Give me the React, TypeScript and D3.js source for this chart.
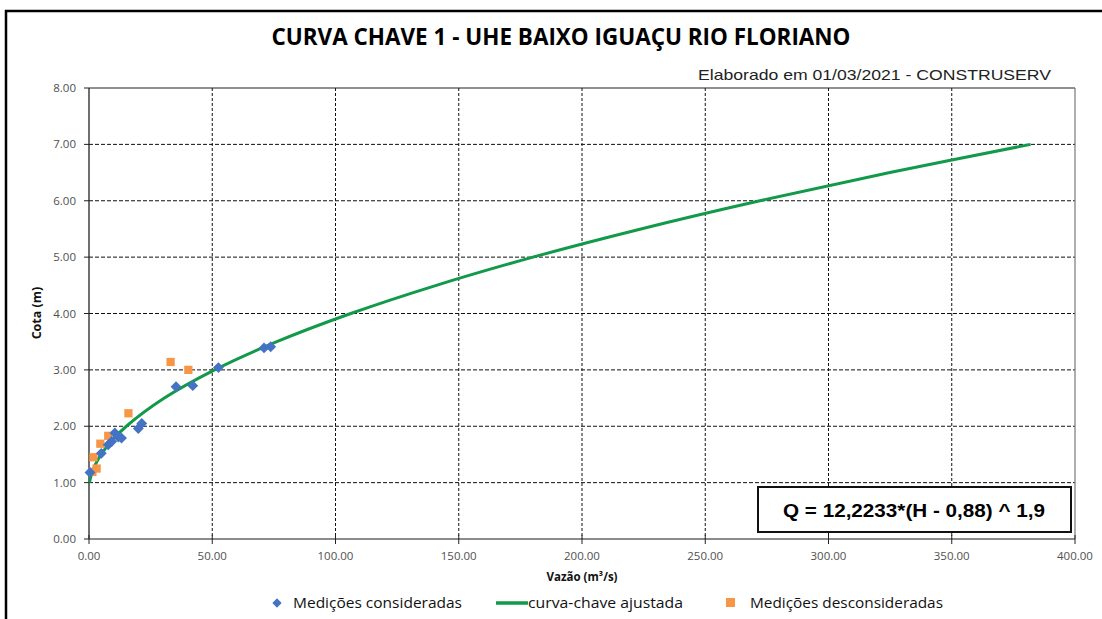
import React from "react";
import * as d3 from "d3";

const W = 1102;
const H = 619;

const xTicks = [0, 50, 100, 150, 200, 250, 300, 350, 400];
const yTicks = [0, 1, 2, 3, 4, 5, 6, 7, 8];

// Medições consideradas (Q m³/s, H m)
const consQ = [0.4, 5.0, 7.8, 9.2, 10.5, 11.9, 13.2, 20.0, 21.4, 35.3, 42.1, 52.5, 71.0, 73.7];
const consH = [1.18, 1.52, 1.67, 1.73, 1.88, 1.81, 1.79, 1.96, 2.05, 2.70, 2.72, 3.04, 3.39, 3.41];

// Medições desconsideradas
const descQ = [1.4, 1.8, 3.1, 4.6, 7.8, 16.0, 33.1, 40.3];
const descH = [1.19, 1.45, 1.25, 1.69, 1.83, 2.23, 3.14, 3.00];

// curva-chave ajustada
const curveH = [1.0, 1.05, 1.1, 1.2, 1.3, 1.5, 1.75, 2.0, 2.5, 3.0, 3.5, 4.0, 4.5, 5.0, 5.5, 6.0, 6.5, 7.0];
const curveQ = [0.22, 0.42, 0.69, 1.40, 2.35, 4.93, 9.38, 15.16, 30.57, 50.96, 76.2, 106.2, 140.9, 180.1, 223.9, 272.2, 324.9, 382.0];

const BLUE = "#4472C4";
const ORANGE = "#F79646";
const GREEN = "#12994A";

export default function App() {
  const left = 89, right = 1075, top = 88, bottom = 539;
  const x = d3.scaleLinear().domain([0, 400]).range([left, right]);
  const y = d3.scaleLinear().domain([0, 8]).range([bottom, top]);

  const line = d3
    .line<number>()
    .x((_, i) => x(curveQ[i]))
    .y((d) => y(d))
    .curve(d3.curveCatmullRom);

  const diamond = d3.symbol().type(d3.symbolDiamond2).size(75)() as string;
  const square = d3.symbol().type(d3.symbolSquare).size(68)() as string;

  const tickFont = "'Open Sans', 'Noto Sans', sans-serif";

  return (
    <svg width={W} height={H} style={{ position: "absolute", left: 0, top: 0, background: "#fff" }}>
      <rect x={0} y={0} width={W} height={H} fill="#fff" />
      {/* outer frame */}
      <rect x={6} y={11} width={W + 20} height={H + 20} fill="none" stroke="#000" strokeWidth={2.5} />

      {/* title */}
      <text
        x={561}
        y={45}
        textAnchor="middle"
        fontFamily="'Open Sans', sans-serif"
        fontWeight={700}
        fontSize={23}
        textLength={579}
        lengthAdjust="spacingAndGlyphs"
        fill="#000"
      >
        CURVA CHAVE 1 - UHE BAIXO IGUAÇU RIO FLORIANO
      </text>
      <text
        x={1051}
        y={80}
        textAnchor="end"
        fontFamily="'Liberation Sans', Arial, sans-serif"
        fontSize={15}
        textLength={353}
        lengthAdjust="spacingAndGlyphs"
        fill="#222"
      >
        Elaborado em 01/03/2021 - CONSTRUSERV
      </text>

      {/* gridlines */}
      {yTicks.filter((t) => t > 0 && t < 8).map((t) => (
        <line key={"gy" + t} x1={left} x2={right} y1={y(t)} y2={y(t)} stroke="#111" strokeWidth={1} strokeDasharray="4,2" />
      ))}
      {xTicks.filter((t) => t > 0 && t < 400).map((t) => (
        <line key={"gx" + t} x1={x(t)} x2={x(t)} y1={top} y2={bottom} stroke="#111" strokeWidth={1} strokeDasharray="3,2" />
      ))}

      {/* border lines */}
      <line x1={left} x2={right} y1={top} y2={top} stroke="#222" strokeWidth={1.2} />
      <line x1={right} x2={right} y1={top} y2={bottom} stroke="#777" strokeWidth={1.2} />
      <line x1={left} x2={left} y1={top} y2={bottom} stroke="#222" strokeWidth={1.3} />
      <line x1={left} x2={right} y1={bottom} y2={bottom} stroke="#666" strokeWidth={1.5} />

      {/* ticks */}
      {yTicks.map((t) => (
        <line key={"ty" + t} x1={left - 5} x2={left} y1={y(t)} y2={y(t)} stroke="#222" strokeWidth={1} />
      ))}
      {xTicks.map((t) => (
        <line key={"tx" + t} x1={x(t)} x2={x(t)} y1={bottom - 4} y2={bottom + 5} stroke="#222" strokeWidth={1} />
      ))}

      {/* tick labels */}
      {yTicks.map((t) => (
        <text key={"ly" + t} x={76} y={y(t) + 4} textAnchor="end" fontFamily={tickFont} fontSize={11.5} fill="#505050">
          {t.toFixed(2)}
        </text>
      ))}
      {xTicks.map((t) => (
        <text key={"lx" + t} x={x(t)} y={560} textAnchor="middle" fontFamily={tickFont} fontSize={11.5} fill="#505050">
          {t.toFixed(2)}
        </text>
      ))}

      {/* axis titles */}
      <text
        transform={`translate(41,${313}) rotate(-90)`}
        textAnchor="middle"
        fontFamily={tickFont}
        fontWeight={700}
        fontSize={12.5}
        fill="#111"
      >
        Cota (m)
      </text>
      <text x={582} y={581} textAnchor="middle" fontFamily={tickFont} fontWeight={700} fontSize={11.5} fill="#111">
        Vazão (m³/s)
      </text>

      {/* curve */}
      <path d={line(curveH) || ""} fill="none" stroke={GREEN} strokeWidth={3} />

      {/* points */}
      {descQ.map((q, i) => (
        <path key={"d" + i} d={square} transform={`translate(${x(q)},${y(descH[i])})`} fill={ORANGE} />
      ))}
      {consQ.map((q, i) => (
        <path key={"c" + i} d={diamond} transform={`translate(${x(q)},${y(consH[i])})`} fill={BLUE} />
      ))}

      {/* equation box */}
      <rect x={758} y={487} width={313} height={45} fill="#fff" stroke="#111" strokeWidth={2} />
      <text
        x={914}
        y={517}
        textAnchor="middle"
        fontFamily="'Liberation Sans', Arial, sans-serif"
        fontWeight={700}
        fontSize={19}
        textLength={262}
        lengthAdjust="spacingAndGlyphs"
        fill="#000"
      >
        Q = 12,2233*(H - 0,88) ^ 1,9
      </text>

      {/* legend */}
      <g fontFamily={tickFont} fontSize={14} fontWeight={500} fill="#111">
        <path d={d3.symbol().type(d3.symbolDiamond2).size(55)() as string} transform="translate(277,603)" fill={BLUE} />
        <text x={293} y={608} textLength={169} lengthAdjust="spacingAndGlyphs">Medições consideradas</text>
        <line x1={496} x2={528} y1={603} y2={603} stroke={GREEN} strokeWidth={3.5} />
        <text x={528} y={608} textLength={155} lengthAdjust="spacingAndGlyphs">curva-chave ajustada</text>
        <rect x={726} y={598} width={9} height={9} fill={ORANGE} />
        <text x={750} y={608} textLength={193} lengthAdjust="spacingAndGlyphs">Medições desconsideradas</text>
      </g>
    </svg>
  );
}
